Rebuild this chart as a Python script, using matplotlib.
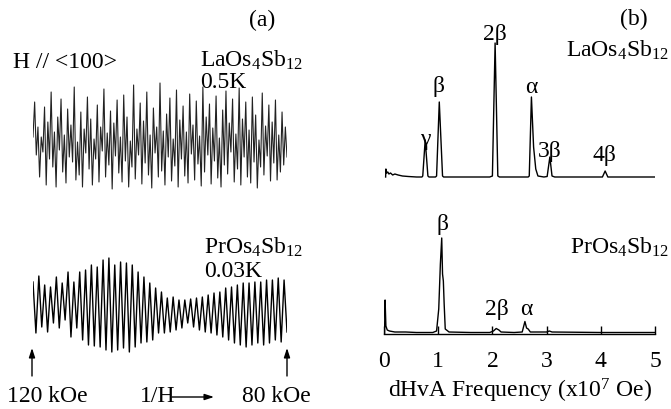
import numpy as np
import matplotlib
matplotlib.use('Agg')
import matplotlib.pyplot as plt

plt.rcParams['font.family'] = ['Liberation Serif', 'DejaVu Serif']
plt.rcParams['mathtext.fontset'] = 'custom'
plt.rcParams['mathtext.rm'] = 'Liberation Serif'
plt.rcParams['mathtext.it'] = 'Liberation Serif:italic'

# (a) dHvA oscillations, extrema (arb. units)
la_signal = [10, 45, -8, 20, -30, 10, -5, 40, -38, 25, -12, 55, -20, 15, -40, 30,
             -3, 48, -25, 12, -36, 38, -10, 22, -15, 60, -33, 5, -28, 35, -40, 18,
             -6, 50, -22, 28, -38, 8, -12, 42, -35, 20, -4, 58, -30, 14, -18, 36,
             -42, 24, -9, 47, -26, 10, -35, 52, -14, 30, -40, 6, -20, 62, -32, 18,
             -8, 44, -37, 26, -16, 55, -28, 12, -41, 39, -6, 20, -30, 64, -24, 16,
             -38, 33, -10, 49, -34, 8, -19, 57, -40, 27, -12, 41, -29, 15, -36, 53,
             -7, 22, -33, 46, -17, 11, -39, 60, -25, 30, -8, 43, -37, 19, -14, 51,
             -31, 9, -40, 37, -18, 56, -27, 24, -5, 48, -35, 13, -22, 59, -38, 28,
             -10, 45, -30, 17, -36, 50, -15, 32, -41, 7, -20, 54, -28, 21, -9, 42,
             -34, 25, -16, 47, -33, 12, -25, 35, -18, 20, -10]

pr_top = [28, 34, 25, 23, 33, 27, 38, 28, 38, 40, 45, 43, 50, 52, 45, 48, 47, 45,
          38, 33, 27, 22, 18, 12, 13, 10, 10, 11, 12, 13, 15, 17, 18, 22, 23, 25,
          27, 27, 28, 28, 30, 30, 32, 30]
pr_bot = [-23, -17, -22, -13, -18, -10, -27, -18, -30, -35, -36, -37, -40, -42,
          -40, -38, -42, -37, -33, -32, -30, -23, -23, -22, -20, -18, -13, -17,
          -20, -22, -23, -25, -27, -30, -33, -35, -37, -35, -33, -35, -33, -30,
          -32, -22]

# (b) FFT spectra: frequency (x10^7 Oe) and amplitude (arb. units)
la_freq = [0.03, 0.035, 0.05, 0.07, 0.09, 0.12, 0.16, 0.2, 0.26, 0.34, 0.45, 0.6,
           0.7, 0.715, 0.76, 0.81, 0.83, 0.95, 0.97, 1.02, 1.08, 1.10, 1.5, 1.95,
           2.0, 2.05, 2.10, 2.13, 2.5, 2.66, 2.68, 2.72, 2.76, 2.80, 2.84, 2.95,
           3.01, 3.06, 3.10, 3.15, 3.6, 4.03, 4.08, 4.13, 4.5, 5.0]
la_amp = [0, 8, 4, 5, 3, 4, 2, 3, 2, 1, 0.5, 0,
          0, 1, 37, 1, 0, 0, 1, 75, 1, 0, 0, 0,
          1, 134, 1, 0, 0, 0, 1, 80, 30, 8, 1, 0,
          0.5, 20, 1, 0, 0, 0, 6, 0, 0, 0]
la_offset = 157

pr_freq = [0.01, 0.02, 0.035, 0.06, 0.1, 0.2, 0.4, 0.6, 0.9, 0.97, 1.01, 1.04,
           1.065, 1.08, 1.095, 1.11, 1.13, 1.2, 1.6, 1.95, 2.02, 2.07, 2.12, 2.16,
           2.4, 2.55, 2.6, 2.63, 2.66, 2.7, 3.0, 3.05, 3.1, 4.0, 5.0]
pr_amp = [0, 34, 8, 4, 3, 2, 2, 1.5, 1.5, 3, 25, 70,
          96, 60, 53, 30, 5, 2, 1.5, 1.5, 3, 5.5, 4, 2,
          1.5, 2, 12.5, 6, 5, 2, 2, 3, 2, 1.5, 1.5]

W, H = 671, 409
fig = plt.figure(figsize=(W / 100, H / 100), dpi=100)


def box(x0, y0, x1, y1):
    return [x0 / W, 1 - y1 / H, (x1 - x0) / W, (y1 - y0) / H]


def label(x, y, s, **kw):
    kw.setdefault('fontsize', 17)
    kw.setdefault('va', 'baseline')
    fig.text(x / W, 1 - y / H, s, **kw)


def arrow(x0, y0, x1, y1):
    fig.add_artist(plt.Annotation('', xy=(x1, H - y1), xytext=(x0, H - y0),
                                  xycoords='figure pixels',
                                  arrowprops=dict(arrowstyle='-|>,head_length=0.55,head_width=0.18',
                                                  color='k', lw=1, shrinkA=0, shrinkB=0)))


LA = r'LaOs$_\mathrm{4}$Sb$_\mathrm{12}$'
PR = r'PrOs$_\mathrm{4}$Sb$_\mathrm{12}$'

# panel (a)
ax_la = fig.add_axes(box(33, 80, 287, 190))
ax_la.plot(np.arange(len(la_signal)), la_signal, color='#222222', lw=0.8)
ax_la.set_xlim(0, len(la_signal) - 1)
ax_la.set_ylim(-43, 67)
ax_la.axis('off')

pr_signal = np.column_stack([pr_top, pr_bot]).ravel()
ax_pr = fig.add_axes(box(33, 250, 287, 360))
ax_pr.plot(np.arange(len(pr_signal)) / 2, pr_signal, color='k', lw=1.0)
ax_pr.set_xlim(0, (len(pr_signal) - 1) / 2)
ax_pr.set_ylim(-50, 60)
ax_pr.axis('off')

label(262, 26, '(a)', ha='center')
label(13, 68, 'H // <100>')
label(200, 67, LA)
label(200, 88, '0.5K')
label(204, 254, PR)
label(204, 277, '0.03K')
label(7, 402, '120 kOe')
label(140, 402, '1/H')
label(242, 402, '80 kOe')
arrow(32, 376, 32, 348)
arrow(287, 376, 287, 348)
arrow(172, 397, 214, 397)

# panel (b)
ax_b = fig.add_axes(box(384, 20, 655, 334))
ax_b.plot(la_freq, np.array(la_amp) + la_offset, color='k', lw=1)
ax_b.plot(pr_freq, pr_amp, color='k', lw=1)
ax_b.set_xlim(0, 5)
ax_b.set_ylim(0, 314)
for s in ['top', 'left', 'right']:
    ax_b.spines[s].set_visible(False)
ax_b.spines['bottom'].set_linewidth(1)
ax_b.set_yticks([])
ax_b.set_xticks(range(6))
ax_b.tick_params(axis='x', direction='in', length=6, width=1, pad=12, labelsize=17)
ax_b.set_xlabel(r'dHvA Frequency (x10$^\mathrm{7}$ Oe)', fontsize=17, labelpad=4)

label(634, 25, '(b)', ha='center')
label(566, 57, LA)
label(570, 254, PR)
label(425, 145, 'γ', ha='center')
label(439, 92, 'β', ha='center')
label(495, 40, '2β', ha='center')
label(531, 93, 'α', ha='center')
label(550, 157, '3β', ha='center')
label(604, 161, '4β', ha='center')
label(442, 230, 'β', ha='center')
label(497, 315, '2β', ha='center')
label(526, 315, 'α', ha='center')

fig.savefig('out.png', dpi=100)
